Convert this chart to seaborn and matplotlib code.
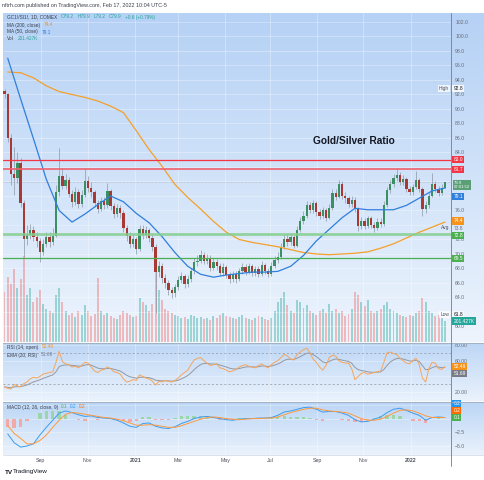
import matplotlib
matplotlib.use('Agg')
import matplotlib.pyplot as plt
from matplotlib.colors import LinearSegmentedColormap
from matplotlib.lines import Line2D
import numpy as np
import pandas as pd
import seaborn as sns

# Candles, one per ~3 trading days (open = previous close)
closes = [92.0, 86.0, 81.0, 80.5, 82.5, 77.0, 72.0, 72.6, 73.3, 72.4,
          71.8, 70.3, 71.4, 72.3, 71.6, 72.5, 78.5, 80.8, 79.4, 80.2,
          78.3, 77.2, 78.6, 76.9, 78.2, 80.0, 79.1, 78.5, 77.0, 76.2,
          77.3, 76.7, 78.7, 76.6, 75.5, 76.4, 75.6, 73.6, 72.5, 71.4,
          72.0, 70.7, 73.5, 72.6, 73.3, 72.2, 71.0, 67.5, 68.3, 66.7,
          66.0, 65.0, 64.6, 65.4, 66.4, 66.9, 65.8, 66.6, 67.6, 68.9,
          69.1, 69.9, 69.0, 69.5, 68.1, 68.9, 68.3, 67.4, 68.2, 67.1,
          66.5, 67.2, 66.6, 67.6, 68.2, 67.5, 68.3, 67.4, 67.9, 67.2,
          68.5, 67.7, 67.2, 68.4, 69.2, 69.6, 71.0, 72.1, 71.6, 72.3,
          71.1, 73.3, 74.6, 75.3, 76.8, 76.0, 77.0, 75.8, 75.3, 76.0,
          75.0, 76.4, 78.4, 77.9, 79.7, 78.0, 77.7, 76.9, 77.5, 76.2,
          73.8, 74.6, 73.9, 74.9, 74.0, 73.6, 74.4, 74.1, 76.8, 78.8,
          79.6, 80.5, 80.9, 79.9, 80.4, 79.0, 78.6, 79.2, 80.2, 79.0,
          76.2, 76.8, 78.0, 79.6, 79.0, 78.4, 79.1, 79.9]
highs = [92.8, 92.2, 86.5, 84.8, 84.0, 83.2, 77.5, 74.0, 74.2, 73.8,
         73.0, 72.2, 72.0, 73.0, 73.0, 73.6, 79.5, 84.6, 81.8, 81.0,
         80.6, 78.8, 79.3, 79.0, 78.8, 81.9, 80.8, 79.9, 78.8, 77.4,
         77.9, 77.8, 79.8, 79.0, 77.0, 76.9, 76.8, 76.0, 74.0, 73.0,
         72.6, 72.3, 74.0, 74.0, 73.9, 73.6, 72.8, 71.4, 69.0, 68.8,
         67.2, 66.4, 65.5, 65.9, 66.9, 67.5, 67.2, 67.1, 68.1, 69.4,
         69.8, 70.6, 70.3, 70.0, 69.8, 69.4, 69.3, 68.7, 68.7, 68.5,
         67.5, 67.6, 67.6, 68.1, 68.7, 68.6, 68.8, 68.6, 68.4, 68.3,
         69.0, 68.8, 68.1, 68.9, 69.7, 70.3, 71.5, 72.8, 72.7, 72.9,
         72.6, 73.8, 75.1, 75.9, 77.3, 77.2, 77.5, 77.3, 76.2, 76.5,
         76.3, 76.9, 79.0, 78.9, 80.2, 80.0, 78.5, 78.0, 78.0, 77.8,
         76.5, 75.1, 75.0, 75.3, 75.2, 74.4, 74.9, 74.9, 77.3, 79.3,
         80.2, 81.0, 81.9, 81.3, 80.9, 80.6, 79.4, 79.7, 81.5, 80.5,
         79.2, 77.3, 78.5, 81.2, 80.1, 79.4, 79.6, 79.9]
lows = [91.5, 85.5, 79.5, 78.2, 79.8, 76.5, 69.6, 71.2, 72.0, 71.8,
        71.0, 68.9, 69.8, 71.0, 71.0, 71.2, 72.3, 78.0, 78.9, 79.0,
        77.8, 76.5, 76.8, 76.3, 76.5, 77.8, 78.6, 77.9, 76.5, 75.7,
        75.9, 76.2, 76.4, 76.0, 75.0, 75.1, 75.0, 73.0, 71.8, 70.8,
        70.9, 70.0, 70.4, 72.0, 72.2, 71.7, 70.4, 61.8, 66.8, 66.0,
        65.3, 64.3, 63.9, 64.1, 65.0, 66.0, 65.3, 65.4, 66.2, 67.3,
        68.4, 68.8, 68.6, 68.6, 67.7, 67.8, 67.8, 67.0, 67.0, 66.7,
        66.0, 66.1, 66.0, 66.3, 67.2, 67.1, 67.2, 66.9, 67.0, 66.8,
        67.0, 67.3, 66.8, 67.0, 68.1, 68.8, 69.3, 70.7, 71.1, 71.2,
        70.8, 70.9, 73.0, 74.1, 75.0, 75.6, 75.7, 75.3, 74.8, 74.9,
        74.6, 74.8, 76.1, 77.4, 77.7, 77.6, 77.1, 76.5, 76.5, 75.8,
        73.2, 73.4, 73.5, 73.6, 73.6, 73.1, 73.3, 73.7, 73.9, 76.5,
        78.4, 79.3, 80.1, 79.5, 79.5, 78.6, 78.1, 78.2, 78.9, 78.5,
        75.3, 75.6, 76.4, 77.8, 78.6, 78.0, 78.1, 79.1]
first_open = 92.5
volume_k = [480, 620, 560, 700, 520, 600, 820, 450, 520, 380,
            430, 500, 360, 320, 300, 280, 450, 520, 380, 300,
            260, 280, 240, 300, 260, 350, 300, 250, 270, 610,
            300, 260, 280, 250, 230, 220, 260, 300, 280, 260,
            240, 250, 420, 380, 350, 300, 360, 700, 500, 400,
            320, 300, 280, 260, 250, 230, 240, 220, 260, 250,
            230, 240, 220, 230, 210, 250, 230, 260, 280, 250,
            240, 230, 220, 240, 260, 230, 220, 210, 230, 250,
            240, 220, 210, 230, 300, 380, 420, 480, 350, 300,
            280, 400, 380, 330, 350, 300, 280, 260, 300, 320,
            280, 360, 300, 320, 280, 300, 250, 270, 320, 480,
            450, 380, 340, 400, 300, 280, 300, 320, 350, 380,
            320, 300, 280, 260, 250, 240, 260, 250, 280, 300,
            420, 380, 300, 280, 250, 260, 230, 201.4]
rsi_vals = [26.7, 25, 24, 30, 28, 27, 31, 33, 37, 39,
            38, 40, 43, 44, 45, 46, 58, 72, 59, 56,
            55, 52, 53, 51, 54, 58, 57, 52, 47, 45,
            48, 49, 52, 50, 46, 45, 43, 37, 33, 34,
            36, 35, 42, 40, 38, 37, 34, 29, 34, 33,
            35, 34, 33, 35, 38, 42, 45, 48, 55, 61,
            63, 64, 60, 57, 54, 55, 56, 51, 50, 48,
            46, 47, 49, 52, 54, 55, 53, 52, 51, 54,
            56, 53, 51, 55, 58, 60, 64, 68, 66, 62,
            61, 68, 71, 74, 76, 70, 62, 58, 52, 48,
            54, 64, 67, 66, 60, 58, 57, 57, 50, 36,
            40, 44, 45, 43, 44, 45, 46, 47, 58, 70,
            71, 69, 68, 63, 60, 57, 56, 60, 63, 55,
            38, 33, 50, 58, 57, 50, 49, 52.49]
# MACD values at every second candle
macd_vals = [-2.8, -4.4, -5.2, -5.0, -4.6, -3.0, -1.6, -0.3, 1.0, 1.4,
             1.1, 0.7, 0.4, 0.5, 0.2, 0.1, 0.0, -0.3, -0.8, -1.4,
             -1.6, -0.9, -0.8, -1.4, -1.7, -1.8, -1.5, -0.9, -0.5, 0.0,
             0.3, 0.4, 0.2, 0.0, -0.2, -0.3, -0.1, 0.0, 0.0, 0.1,
             0.1, 0.2, 0.6, 1.2, 1.4, 1.7, 2.0, 2.1, 1.7, 1.2,
             1.3, 1.3, 1.0, 0.6, -0.2, -0.6, -0.5, -0.1, 0.3, 1.1,
             1.7, 1.9, 1.5, 1.0, 0.6, -0.3, 0.2, 0.3, 0.2]
signal_vals = [-1.3, -2.7, -3.6, -4.6, -4.6, -4.0, -3.0, -1.6, -0.3, 0.8,
               1.1, 1.0, 0.8, 0.6, 0.4, 0.2, 0.1, -0.1, -0.4, -0.8,
               -1.2, -1.2, -1.1, -1.2, -1.4, -1.6, -1.6, -1.3, -0.9, -0.5,
               -0.1, 0.2, 0.3, 0.2, 0.0, -0.1, -0.2, -0.1, 0.0, 0.0,
               0.1, 0.1, 0.3, 0.7, 1.1, 1.4, 1.7, 1.9, 1.9, 1.6,
               1.4, 1.3, 1.2, 1.0, 0.5, 0.0, -0.3, -0.3, -0.1, 0.4,
               1.0, 1.5, 1.6, 1.4, 1.0, 0.5, 0.2, 0.2, 0.2]
# moving averages at every fourth candle
ma50_vals = [97.0, 91.4, 85.9, 80.3, 76.0, 74.4, 75.5, 76.8, 78.0, 77.2,
             75.6, 74.3, 72.4, 70.2, 68.3, 67.2, 66.8, 67.1, 67.3, 67.5,
             67.5, 67.6, 68.3, 69.8, 71.8, 73.4, 75.0, 76.3, 76.1, 76.1,
             76.1, 76.7, 77.7, 78.7, 79.1]
ma200_vals = [95.1, 95.0, 94.3, 93.2, 92.4, 92.0, 91.6, 91.1, 90.4, 89.5,
              87.0, 84.4, 82.1, 79.6, 77.8, 76.2, 74.5, 73.0, 72.0, 71.6,
              71.3, 71.0, 70.6, 70.2, 70.0, 69.9, 70.0, 70.1, 70.3, 70.8,
              71.4, 72.2, 73.0, 73.7, 74.4]

red_levels = [83.0, 81.7]
green_levels = [72.8, 69.5]
last_close = 79.9

price_ticks = [60, 64, 66, 68, 70, 72, 76, 84, 86, 88, 90, 92, 94, 96, 98, 100, 102]
rsi_ticks = [20, 60, 80]
macd_ticks = [-5, -2.5]
month_ticks = ['2020-09-01', '2020-11-02', '2021-01-04', '2021-03-01', '2021-05-03',
               '2021-07-01', '2021-09-01', '2021-11-01', '2022-01-03']
month_labels = ['Sep', 'Nov', '2021', 'Mar', 'May', 'Jul', 'Sep', 'Nov', '2022']

W, H = 484, 480


def fx(px):
    return px / W


def fy(py):
    return 1 - py / H


sns.set_style('white')
plt.rcParams['font.family'] = ['Liberation Sans', 'DejaVu Sans']

fig = plt.figure(figsize=(W / 100, H / 100), dpi=100)
fig.patch.set_facecolor('white')
renderer = fig.canvas.get_renderer()


def pane_bg(top, bottom, c_top, c_bot):
    bg = fig.add_axes([fx(3), fy(bottom), fx(481), (bottom - top) / H], zorder=-10)
    cmap = LinearSegmentedColormap.from_list('grad', [c_top, c_bot])
    bg.imshow(np.linspace(0, 1, 200).reshape(-1, 1), cmap=cmap, aspect='auto', extent=[0, 1, 0, 1])
    bg.set_axis_off()


pane_bg(13, 342, '#b5d1f5', '#edf4fd')
pane_bg(343, 401, '#bcd6f6', '#eaf2fc')
pane_bg(402, 455, '#bcd6f6', '#eaf2fc')

ax = fig.add_axes([fx(3), fy(342), fx(448), 329 / H])
ax_rsi = fig.add_axes([fx(3), fy(401), fx(448), 58 / H], sharex=ax)
ax_macd = fig.add_axes([fx(3), fy(455), fx(448), 53 / H], sharex=ax)
ax_vol = ax.twinx()
ax_vol.set_zorder(1)
ax.set_zorder(2)
for a in (ax, ax_rsi, ax_macd, ax_vol):
    a.patch.set_visible(False)
    for s in a.spines.values():
        s.set_visible(False)

dates = pd.date_range('2020-07-15', '2022-02-17', periods=len(closes))
opens = [first_open] + closes[:-1]
df = pd.DataFrame({'date': dates, 'open': opens, 'high': highs, 'low': lows,
                   'close': closes, 'volume': volume_k})
up = (df['close'] >= df['open']).values
body_low = df[['open', 'close']].min(axis=1)
body_h = (df['close'] - df['open']).abs().clip(lower=0.08)

# volume
vol_colors = [(0.15, 0.65, 0.60, 0.4) if u else (0.94, 0.33, 0.31, 0.36) for u in up]
ax_vol.bar(df['date'], df['volume'], width=2.6, color=vol_colors, linewidth=0)
ax_vol.set_ylim(0, 3150)
ax_vol.axis('off')

# candles
ax.vlines(df['date'], df['low'], df['high'], color='#8c97a5', lw=0.5, zorder=3)
ax.bar(df['date'], body_h, bottom=body_low, width=3.0,
       color=['#3b8f62' if u else '#a93a33' for u in up], linewidth=0, zorder=4)

# moving averages
ma_dates = dates[1::4]
sns.lineplot(x=ma_dates, y=ma200_vals, ax=ax, color='#f5a02a', lw=0.9, zorder=5)
sns.lineplot(x=ma_dates, y=ma50_vals, ax=ax, color='#2f7fdd', lw=0.9, zorder=5)

# levels
ax.axhline(red_levels[0], color='#f23645', lw=0.9, zorder=6)
ax.axhline(red_levels[1], color='#f0616d', lw=1.4, alpha=0.85, zorder=6)
ax.axhline(green_levels[0], color='#86cf90', lw=2.0, alpha=0.85, zorder=6)
ax.axhline(green_levels[1], color='#4caf50', lw=0.9, zorder=6)
ax.axhline(last_close, color='#aab3c0', lw=0.5, ls=(0, (1, 1)), zorder=2)

ax.set_ylim(57.86, 103.24)
ax.set_xlim(pd.Timestamp('2020-07-13'), pd.Timestamp('2022-02-25'))
ax.yaxis.tick_right()
ax.set_yticks(price_ticks)
ax.set_yticklabels(['%.1f' % v for v in price_ticks])

# RSI pane
rsi_ema = pd.Series(rsi_vals).ewm(span=7, adjust=False).mean()
ax_rsi.axhline(70, color='#8e97a3', lw=0.5, ls=(0, (3, 3)))
ax_rsi.axhline(30, color='#8e97a3', lw=0.5, ls=(0, (3, 3)))
sns.lineplot(x=dates, y=rsi_ema.values, ax=ax_rsi, color='#9598a1', lw=0.7)
sns.lineplot(x=dates, y=rsi_vals, ax=ax_rsi, color='#f6a55a', lw=0.7)
ax_rsi.set_ylim(8.9, 82.5)
ax_rsi.yaxis.tick_right()
ax_rsi.set_yticks(rsi_ticks)
ax_rsi.set_yticklabels(['%.2f' % v for v in rsi_ticks])

# MACD pane
macd_dates = dates[1::2]
hist = np.array(macd_vals) - np.array(signal_vals)
ax_macd.bar(macd_dates, hist, width=4.5,
            color=['#9ad6a7' if h >= 0 else '#f4a9a9' for h in hist], linewidth=0)
sns.lineplot(x=macd_dates, y=macd_vals, ax=ax_macd, color='#3c9cf0', lw=0.7)
sns.lineplot(x=macd_dates, y=signal_vals, ax=ax_macd, color='#ff9a3c', lw=0.7)
ax_macd.set_ylim(-6.64, 3.03)
ax_macd.yaxis.tick_right()
ax_macd.set_yticks(macd_ticks)
ax_macd.set_yticklabels(['\u2212%.1f' % abs(v) for v in macd_ticks])

for a in (ax, ax_rsi, ax_macd):
    a.set_xlabel('')
    a.set_ylabel('')
    a.tick_params(axis='y', length=0, pad=3, labelsize=3.7, labelcolor='#6a6d78')
    a.tick_params(axis='x', length=0)
ax.tick_params(labelbottom=False)
ax_rsi.tick_params(labelbottom=False)
ax_macd.set_xticks(pd.to_datetime(month_ticks))
ax_macd.set_xticklabels(month_labels)
ax_macd.tick_params(axis='x', pad=2.5, labelsize=3.8, labelcolor='#50535e')
for lab in ax_macd.get_xticklabels():
    if lab.get_text().startswith('20'):
        lab.set_fontweight('bold')

# grid: every 2.0 on price, every 20 on RSI, every 2.5 on MACD, plus month lines
for g in np.arange(60, 103, 2):
    ax.axhline(g, color='white', alpha=0.45, lw=0.5, zorder=0)
for g in (20, 40, 60, 80):
    ax_rsi.axhline(g, color='white', alpha=0.45, lw=0.5, zorder=0)
for g in (-5, -2.5, 0, 2.5):
    ax_macd.axhline(g, color='white', alpha=0.45, lw=0.5, zorder=0)
for a in (ax, ax_rsi, ax_macd):
    for d in pd.to_datetime(month_ticks):
        a.axvline(d, color='white', alpha=0.45, lw=0.5, zorder=0)


def axis_tag(a, y, s, fc, tc='white', fs=3.5):
    a.text(1.0055, y, s, transform=a.get_yaxis_transform(), ha='left', va='center',
           fontsize=fs, color=tc, zorder=20, clip_on=False, linespacing=1.0,
           bbox=dict(boxstyle='square,pad=0.22', fc=fc, ec='none'))


def side_note(a, y, s, boxed=True):
    kw = dict(boxstyle='square,pad=0.22', fc='white', ec='none', alpha=0.75) if boxed else None
    a.text(0.996, y, s, transform=a.get_yaxis_transform(), ha='right', va='center',
           fontsize=3.5, color='#50535e', zorder=20, bbox=kw)


axis_tag(ax, 92.8, '92.8', '#f4f7fb', '#131722')
side_note(ax, 92.8, 'High')
axis_tag(ax, 83.0, '83.0', '#f23645')
axis_tag(ax, 81.7, '81.7', '#f23645')
axis_tag(ax, 79.55, '79.9\n07:01:52', '#5a9f75', fs=3.1)
axis_tag(ax, 77.95, '79.1', '#2f7fdd')
axis_tag(ax, 74.55, '74.4', '#f7931a')
ax.text(1.0055, 73.45, '73.8', transform=ax.get_yaxis_transform(), ha='left', va='center',
        fontsize=3.5, color='#6a6d78', zorder=20, clip_on=False)
side_note(ax, 73.6, 'Avg', boxed=False)
axis_tag(ax, 72.6, '72.8', '#4caf50')
axis_tag(ax, 69.4, '69.5', '#4caf50')
axis_tag(ax, 61.7, '61.8', '#f4f7fb', '#131722')
side_note(ax, 61.7, 'Low')
axis_tag(ax, 60.75, '201.427K', '#26a69a')

axis_tag(ax_rsi, 52.6, '52.49', '#f7931a')
axis_tag(ax_rsi, 44.0, '51.69', '#787b86')
axis_tag(ax_macd, 2.75, '0.2', '#2196f3')
axis_tag(ax_macd, 1.5, '0.2', '#ff6d00')
axis_tag(ax_macd, 0.25, '0.1', '#4caf50')

# title and legends
fig.text(fx(313), fy(141), 'Gold/Silver Ratio', fontsize=7.3, fontweight='bold',
         color='#131722', va='center')
fig.text(fx(2), fy(6), 'nftrh.com published on TradingView.com, Feb 17, 2022 10:04 UTC-5',
         fontsize=3.9, color='#3a3e4a', va='center')

dark = '#3a3e4a'


def text_row(row_y, pieces, x0=7, gap=3.5, fs=3.4):
    x = x0
    for text, col in pieces:
        t = fig.text(fx(x), fy(row_y), text, fontsize=fs, color=col, va='center')
        x += t.get_window_extent(renderer=renderer).width + gap


text_row(17, [('GC1!/SI1!, 1D, COMEX', dark), ('O79.2', '#26a69a'), ('H79.9', '#26a69a'),
              ('L79.2', '#26a69a'), ('C79.9', '#26a69a'), ('+0.6 (+0.79%)', '#26a69a')])
text_row(25, [('MA (200, close)', dark), ('74.4', '#f7931a')])
text_row(32, [('MA (50, close)', dark), ('79.1', '#2f7fdd')])
text_row(39, [('Vol', dark), ('201.427K', '#26a69a')])
text_row(347, [('RSI (14, open)', dark), ('52.49', '#f7931a')])
text_row(355, [('EMA (20, RSI)', dark), ('51.69', '#787b86')])
text_row(407, [('MACD (12, 26, close, 9)', dark), ('0.1', '#4caf50'), ('0.2', '#2196f3'),
               ('0.2', '#ff6d00')], gap=2.5)

fig.text(fx(5), fy(472), 'TV', fontsize=4.6, fontweight='bold', color='#131722', va='center')
fig.text(fx(13), fy(472), 'TradingView', fontsize=4.6, color='#131722', va='center')

# separators and price-scale line
for sep_y in (342.5, 401.5):
    fig.add_artist(Line2D([fx(3), fx(484)], [fy(sep_y), fy(sep_y)], color='#a3b3c7', lw=0.8))
fig.add_artist(Line2D([fx(3), fx(484)], [fy(455), fy(455)], color='#d0d6de', lw=0.5))
fig.add_artist(Line2D([fx(451), fx(451)], [fy(13), fy(466)], color='#787b86', lw=0.6))

fig.savefig('out.png', dpi=100)
